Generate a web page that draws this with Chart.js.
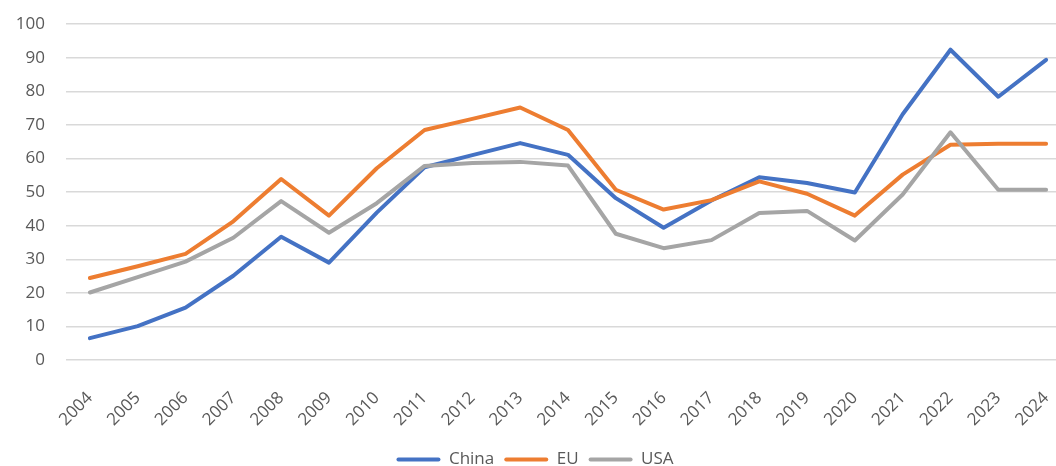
<!DOCTYPE html>
<html>
<head>
<meta charset="utf-8">
<script src="https://cdn.jsdelivr.net/npm/chart.js@4.4.1/dist/chart.umd.min.js"></script>
<style>
  html, body { margin: 0; padding: 0; background: #fff; overflow: hidden; }
  #wrap { width: 1096px; height: 485px; position: relative; top: -7px; }
</style>
</head>
<body>
<div id="wrap"><canvas id="chart"></canvas></div>
<script>
// --- data ---
const years = ['2004', '2005', '2006', '2007', '2008', '2009', '2010', '2011', '2012', '2013', '2014',
               '2015', '2016', '2017', '2018', '2019', '2020', '2021', '2022', '2023', '2024'];
const china = [6.5, 10.1, 15.6, 25.1, 36.7, 29.0, 43.9, 57.4, 61.0, 64.6, 61.1,
               48.2, 39.4, 47.5, 54.4, 52.7, 49.9, 73.2, 92.4, 78.4, 89.4];
const eu    = [24.4, 27.9, 31.6, 41.3, 53.9, 43.0, 57.1, 68.5, 71.8, 75.2, 68.5,
               50.7, 44.8, 47.6, 53.2, 49.5, 43.0, 55.2, 64.1, 64.4, 64.4];
const usa   = [20.1, 24.7, 29.3, 36.4, 47.3, 37.9, 46.7, 57.8, 58.7, 59.0, 57.9,
               37.6, 33.3, 35.7, 43.8, 44.4, 35.6, 49.3, 67.8, 50.7, 50.7];
const yTicks = [0, 10, 20, 30, 40, 50, 60, 70, 80, 90, 100];

const colors = { china: '#4472C4', eu: '#ED7D31', usa: '#A5A5A5', text: '#595959', grid: '#d9d9d9' };

Chart.defaults.font.family = '"Open Sans", "DejaVu Sans", sans-serif';
Chart.defaults.font.size = 17;
Chart.defaults.color = colors.text;

function line(label, data, color, order) {
    return {
        label: label,
        data: data,
        borderColor: color,
        backgroundColor: color,
        borderWidth: 4,
        borderCapStyle: 'round',
        borderJoinStyle: 'round',
        pointRadius: 0,
        pointHoverRadius: 0,
        tension: 0,
        order: order
    };
}

new Chart(document.getElementById('chart'), {
    type: 'line',
    data: {
        labels: years,
        datasets: [
            line('China', china, colors.china, 3),
            line('EU', eu, colors.eu, 2),
            line('USA', usa, colors.usa, 1)
        ]
    },
    options: {
        responsive: true,
        maintainAspectRatio: false,
        animation: false,
        layout: { padding: { top: 16, right: 26, left: 0, bottom: 0 } },
        plugins: {
            tooltip: { enabled: false },
            legend: {
                position: 'bottom',
                labels: {
                    boxWidth: 44,
                    boxHeight: 4,
                    padding: 10,
                    font: { size: 17 },
                    color: colors.text,
                    sort: (a, b) => a.datasetIndex - b.datasetIndex,
                    generateLabels: (chart) => {
                        const items = Chart.defaults.plugins.legend.labels.generateLabels(chart);
                        items.forEach(it => { it.lineWidth = 0; it.borderRadius = 2; });
                        return items;
                    }
                }
            }
        },
        scales: {
            x: {
                offset: true,
                grid: { display: false, drawTicks: false },
                border: { display: false },
                ticks: { minRotation: 45, maxRotation: 45, padding: 28, color: colors.text, font: { size: 17 } },
                afterFit: (scale) => { scale.height = 81; }
            },
            y: {
                min: 0,
                max: 100,
                afterBuildTicks: (scale) => { scale.ticks = yTicks.map(v => ({ value: v })); },
                grid: { color: colors.grid, lineWidth: 1.5, drawTicks: false },
                border: { display: false },
                ticks: { padding: 21, color: colors.text, font: { size: 17 } },
                afterFit: (scale) => { scale.width = 66; }
            }
        }
    }
});
</script>
</body>
</html>
